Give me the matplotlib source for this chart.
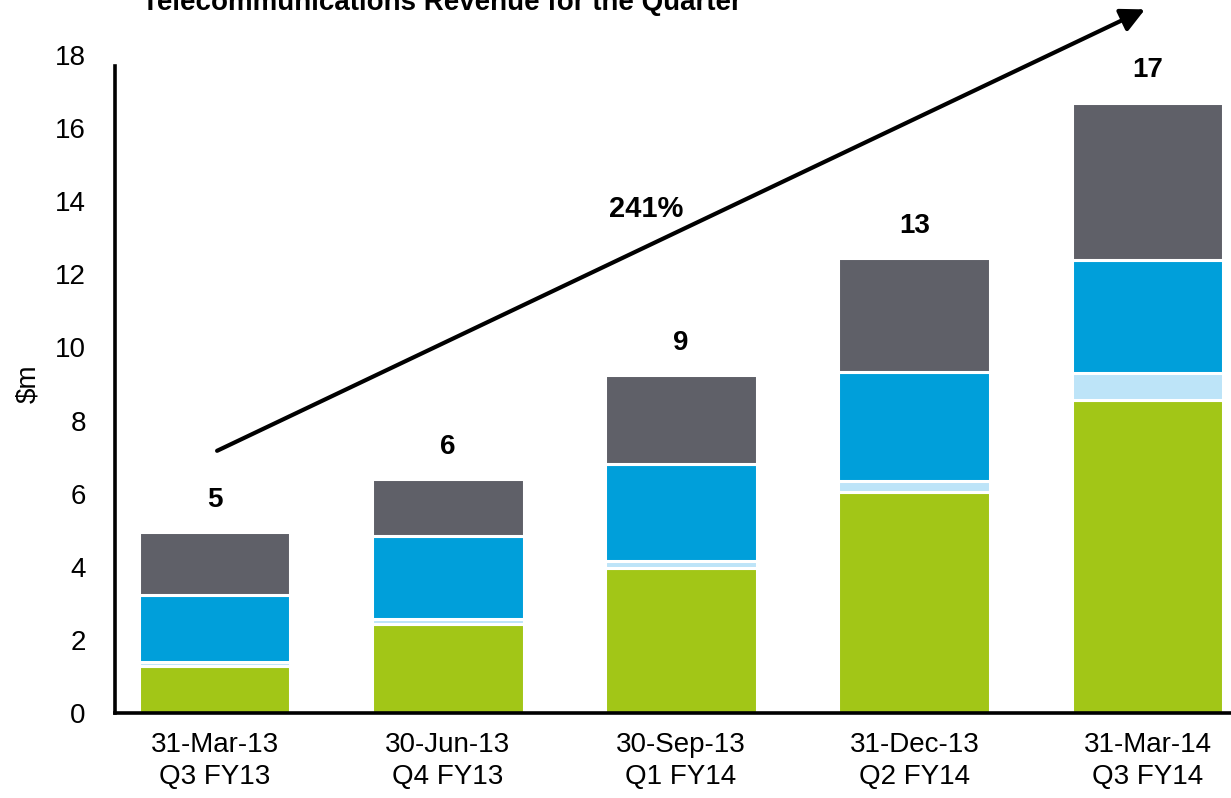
import matplotlib.pyplot as plt
import numpy as np

plt.rcParams['font.family'] = ['Liberation Sans', 'DejaVu Sans']

# data
quarters = ['31-Mar-13\nQ3 FY13', '30-Jun-13\nQ4 FY13', '30-Sep-13\nQ1 FY14',
            '31-Dec-13\nQ2 FY14', '31-Mar-14\nQ3 FY14']
green = [1.28, 2.44, 3.97, 6.04, 8.55]
light_blue = [0.12, 0.12, 0.2, 0.3, 0.75]
blue = [1.82, 2.27, 2.63, 3.0, 3.1]
gray = [1.73, 1.57, 2.45, 3.1, 4.3]
totals_label = ['5', '6', '9', '13', '17']
growth_label = '241%'
title = 'Telecommunications Revenue for the Quarter'

colors = ['#A2C617', '#BDE4F8', '#009FDA', '#5F6068']

fig = plt.figure(figsize=(12.31, 7.98), dpi=100)
ax = fig.add_axes([0.0934, 0.1065, 0.9066, 0.8246])

x = np.arange(len(quarters))
bottom = np.zeros(len(quarters))
for vals, c in zip([green, light_blue, blue, gray], colors):
    ax.bar(x, vals, width=0.65, bottom=bottom, color=c,
           edgecolor='white', linewidth=2.2)
    bottom += np.array(vals)

for xi, top, lab in zip(x, bottom, totals_label):
    ax.text(xi, top + 0.88, lab, ha='center', va='center',
            fontsize=20, fontweight='bold')

ax.set_xlim(-0.427, 4.358)
ax.set_ylim(0, 18)
ax.set_yticks(range(0, 19, 2))
ax.set_xticks(x)
ax.set_xticklabels(quarters, fontsize=20, linespacing=1.3)
ax.tick_params(axis='both', length=0, labelsize=20)
ax.tick_params(axis='y', pad=21)
ax.tick_params(axis='x', pad=14)
ax.set_ylabel('$m', fontsize=20)
ax.yaxis.set_label_coords(-0.066, 0.5)

for s in ['top', 'right']:
    ax.spines[s].set_visible(False)
for s in ['left', 'bottom']:
    ax.spines[s].set_linewidth(2.6)
ax.spines['left'].set_bounds(0, 17.7)

# growth arrow
ax.annotate('', xy=(4.0, 19.28), xytext=(0.0, 7.14),
            arrowprops=dict(arrowstyle='-|>', color='black', lw=3,
                            mutation_scale=36),
            annotation_clip=False)
ax.text(1.85, 13.8, growth_label, ha='center', va='center',
        fontsize=21, fontweight='bold')

fig.text(0.115, 0.9875, title, ha='left', va='baseline', fontsize=20,
         fontweight='bold')

fig.savefig('out.png', dpi=100)
